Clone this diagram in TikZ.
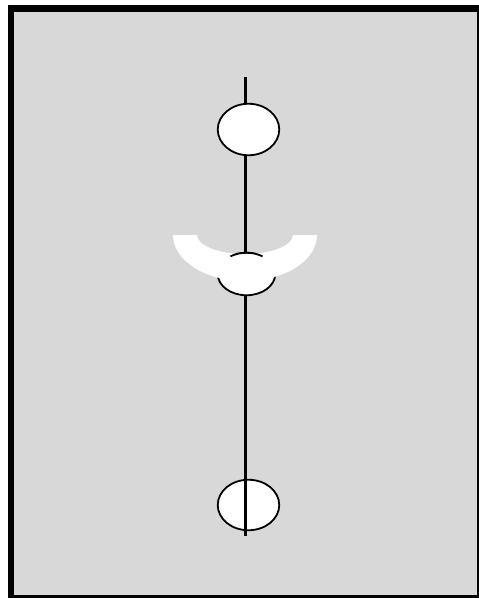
\documentclass[tikz,border=0pt]{standalone}
\usetikzlibrary{shapes.geometric}
\definecolor{panelgray}{RGB}{216,216,216}
\begin{document}
\begin{tikzpicture}[x=1pt,y=-1pt,
  ball/.style={ellipse,draw=black,fill=white,line width=1.8pt,inner sep=0pt,outer sep=0pt},
  stem/.style={line width=3.8pt,draw=black},
  moon/.style={fill=white,draw=none}]
\useasboundingbox (0,0) rectangle (479,598);
% frame
\fill[black] (8,5) rectangle (479,598);
\fill[panelgray] (13.5,12) rectangle (476.8,595);
% bottom ellipse (below the stem)
\node[ball,minimum width=61.5pt,minimum height=50.5pt] (bot) at (248.5,505) {};
% stem
\coordinate (stemtop) at (245.5,77);
\coordinate (stemend) at (245.5,536);
\draw[stem] (stemtop) -- (stemend);
% top and middle ellipses (over the stem)
\node[ball,minimum width=61.5pt,minimum height=51.5pt] (top) at (248.5,129.5) {};
\node[ball,minimum width=57.5pt,minimum height=42.5pt] (mid) at (246.5,274) {};
% white crescent
\fill[moon] (173,235) arc[start angle=180,end angle=0,x radius=72,y radius=46]
  -- (293,235) arc[start angle=0,end angle=180,x radius=48,y radius=19] -- cycle;
% top arc of middle ellipse visible over the crescent
\draw[line width=1.8pt] (mid.center) ++(56:28.75 and -21.25)
  arc[start angle=56,end angle=124,x radius=28.75,y radius=-21.25];
\end{tikzpicture}
\end{document}
